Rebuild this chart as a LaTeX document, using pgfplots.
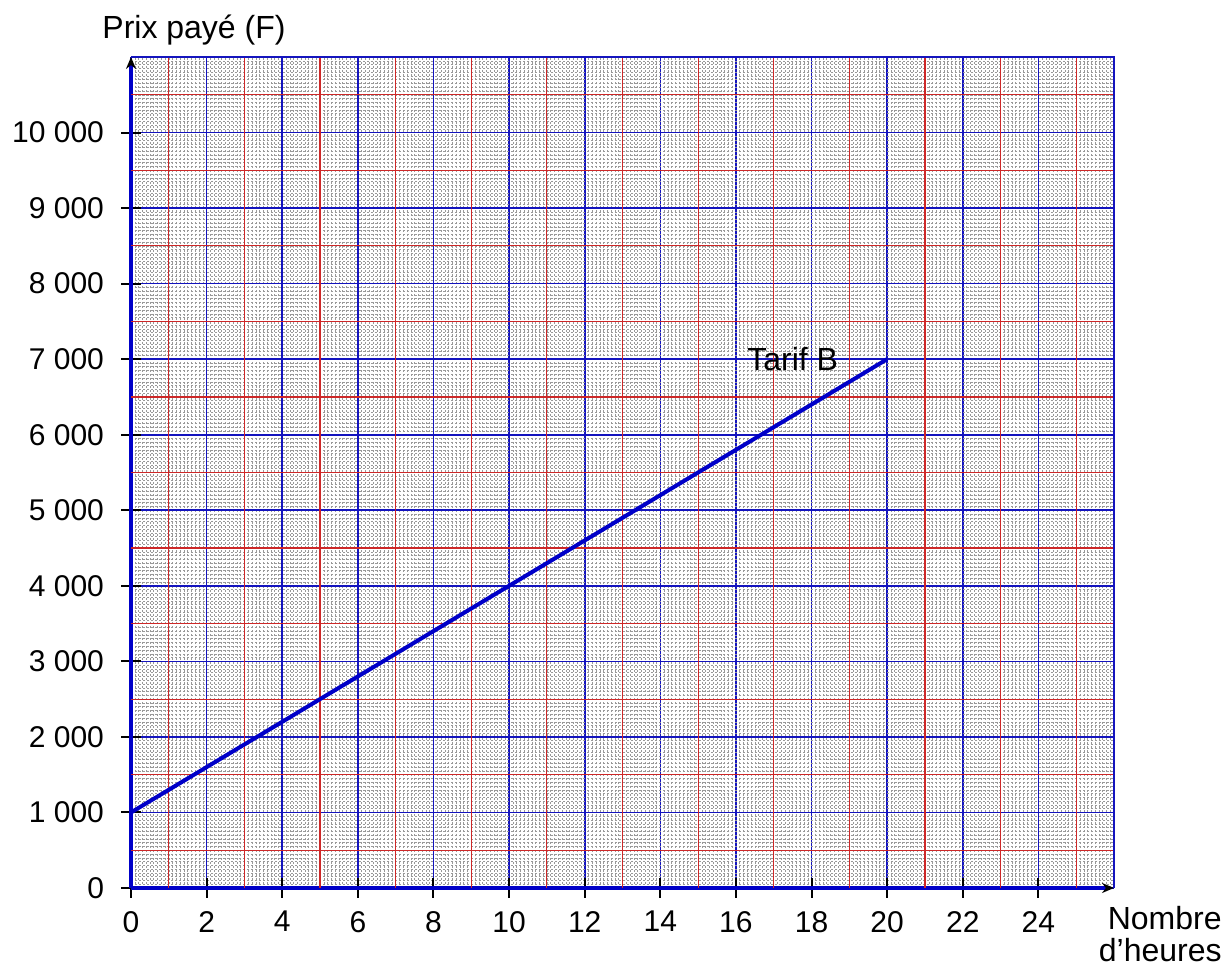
\documentclass[border=0pt]{standalone}
\usepackage{fontspec}
\setmainfont{Liberation Sans}
\usepackage{pgfplots}
\pgfplotsset{compat=1.18}
\usetikzlibrary{arrows.meta}

\definecolor{gridblue}{RGB}{20,20,190}
\definecolor{gridred}{RGB}{205,40,40}
\definecolor{lineblue}{RGB}{0,0,200}

\begin{document}
\begin{tikzpicture}
\useasboundingbox (0,0) rectangle (615pt,486pt);
\begin{axis}[
    at={(65.5pt,42pt)}, anchor=south west,
    scale only axis,
    width=491.5pt, height=415.5pt,
    xmin=0, xmax=26,
    ymin=0, ymax=11000,
    axis x line=bottom, axis y line=left,
    axis line style={draw=lineblue, line width=1.8pt, -{Stealth[black,length=6pt,width=5pt]}},
    xtick={0,2,...,24},
    ytick={0,1000,...,10000},
    yticklabels={0,1 000,2 000,3 000,4 000,5 000,6 000,7 000,8 000,9 000,10 000},
    minor xtick={0,0.1,...,26.05},
    minor ytick={0,50,...,11000},
    grid=both,
    minor grid style={black!40, line width=0.25pt, dash pattern=on 1pt off 1pt},
    major grid style={gridblue, line width=0.8pt},
    extra x ticks={1,3,...,25},
    extra y ticks={500,1500,...,10500},
    extra tick style={grid=major, major grid style={gridred, line width=0.6pt},
        major tick length=0pt},
    extra x tick labels={},
    extra y tick labels={},
    tick align=center,
    major tick length=10pt,
    minor tick length=0pt,
    tick style={black, line width=1pt},
    tick label style={font=\fontsize{15}{18}\selectfont},
    /pgf/number format/assume math mode=true,
    xticklabel style={yshift=-3pt},
    yticklabel style={xshift=-5pt},
    scaled ticks=false,
    clip=false,
]
\addplot[lineblue, line width=2pt] coordinates {(0,1000) (20,7000)};
\draw[gridblue, line width=1pt] (axis cs:0,11000) -- (axis cs:26,11000) -- (axis cs:26,0);
\node[font=\fontsize{16}{18}\selectfont] at (axis cs:17.5,7000) {Tarif B};
\end{axis}
\node[font=\fontsize{16}{18}\selectfont] at (97pt,471pt) {Prix payé (F)};
\node[font=\fontsize{16}{16}\selectfont, anchor=east, align=right, inner sep=0pt] at (611pt,19pt) {Nombre\\d’heures};
\end{tikzpicture}
\end{document}
